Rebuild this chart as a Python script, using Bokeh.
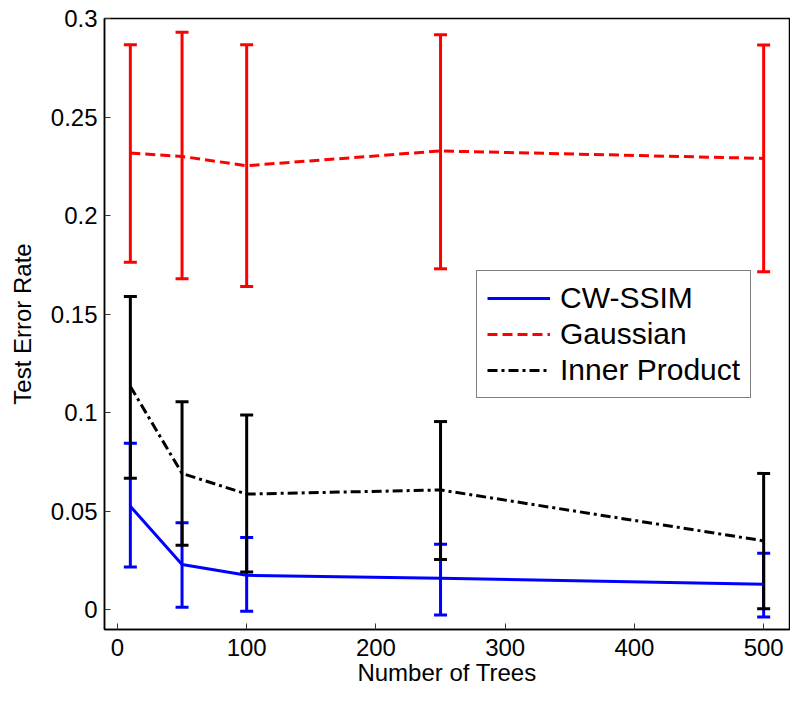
from bokeh.plotting import figure
from bokeh.models import Whisker, TeeHead, ColumnDataSource, Range1d, FixedTicker
from bokeh.embed import file_html
from bokeh.resources import INLINE

# ---- data ----
trees = [10, 50, 100, 250, 500]

cw_mean = [0.0525, 0.023, 0.0175, 0.016, 0.013]
cw_upper = [0.0845, 0.0442, 0.0367, 0.0333, 0.0287]
cw_lower = [0.0217, 0.0013, -0.0008, -0.0027, -0.0037]

gauss_mean = [0.2317, 0.230, 0.2253, 0.2328, 0.229]
gauss_upper = [0.2867, 0.293, 0.2867, 0.2917, 0.2865]
gauss_lower = [0.1763, 0.168, 0.164, 0.173, 0.1715]

inner_mean = [0.1133, 0.0692, 0.0587, 0.0608, 0.035]
inner_upper = [0.159, 0.1055, 0.0988, 0.0955, 0.0692]
inner_lower = [0.0667, 0.0328, 0.0192, 0.0255, 0.0005]

x_ticks = [0, 100, 200, 300, 400, 500]
y_ticks = [0, 0.05, 0.1, 0.15, 0.2, 0.25, 0.3]
y_tick_labels = ["0", "0.05", "0.1", "0.15", "0.2", "0.25", "0.3"]

series = [
    ("CW-SSIM", cw_mean, cw_upper, cw_lower, "#0000ff", "solid"),
    ("Gaussian", gauss_mean, gauss_upper, gauss_lower, "#ff0000", "10 5"),
    ("Inner Product", inner_mean, inner_upper, inner_lower, "#000000", "10 4 3 4"),
]

FONT = "Liberation Sans"

p = figure(width=790, height=688, output_backend="svg", toolbar_location=None,
           x_range=Range1d(-10, 520), y_range=Range1d(-0.01, 0.3),
           min_border_left=104, min_border_right=1, min_border_top=18, min_border_bottom=56,
           x_axis_label="Number of Trees", y_axis_label="Test Error Rate")
p.xgrid.visible = False
p.ygrid.visible = False
p.outline_line_color = "#000000"
p.outline_line_width = 1.5

for name, m, up, lo, col, dash in series:
    src = ColumnDataSource(dict(x=trees, m=m, up=up, lo=lo))
    p.line("x", "m", source=src, line_color=col, line_width=3, line_dash=dash, legend_label=name)
    w = Whisker(base="x", upper="up", lower="lo", source=src, dimension="height",
                line_color=col, line_width=3,
                upper_head=TeeHead(size=13, line_color=col, line_width=3),
                lower_head=TeeHead(size=13, line_color=col, line_width=3))
    p.add_layout(w)

# axes styling
for ax in (p.xaxis[0], p.yaxis[0]):
    ax.major_tick_in = 6
    ax.major_tick_out = 0
    ax.minor_tick_line_color = None
    ax.major_tick_line_color = "#333333"
    ax.axis_line_color = "#000000"
    ax.axis_line_width = 1.5
    ax.major_label_text_font = FONT
    ax.major_label_text_font_size = "24px"
    ax.major_label_text_color = "#000000"
    ax.axis_label_text_font = FONT
    ax.axis_label_text_font_size = "24px"
    ax.axis_label_text_font_style = "normal"
    ax.axis_label_text_color = "#000000"

p.xaxis[0].ticker = FixedTicker(ticks=x_ticks)
p.yaxis[0].ticker = FixedTicker(ticks=y_ticks)
p.yaxis[0].major_label_overrides = {t: s for t, s in zip(y_ticks, y_tick_labels)}
p.xaxis[0].major_label_standoff = 9
p.xaxis[0].axis_label_standoff = 0
p.yaxis[0].major_label_standoff = 7
p.yaxis[0].axis_label_standoff = 12

lg = p.legend[0]
lg.location = (372, 231)
lg.margin = 0
lg.padding = 10
lg.spacing = 2
lg.glyph_width = 63
lg.glyph_height = 34
lg.label_height = 34
lg.label_standoff = 10
lg.label_text_font = FONT
lg.label_text_font_size = "30px"
lg.label_text_color = "#000000"
lg.border_line_color = "#000000"
lg.border_line_width = 1.5
lg.background_fill_alpha = 1.0

open("out.html", "w").write(file_html(p, INLINE))
